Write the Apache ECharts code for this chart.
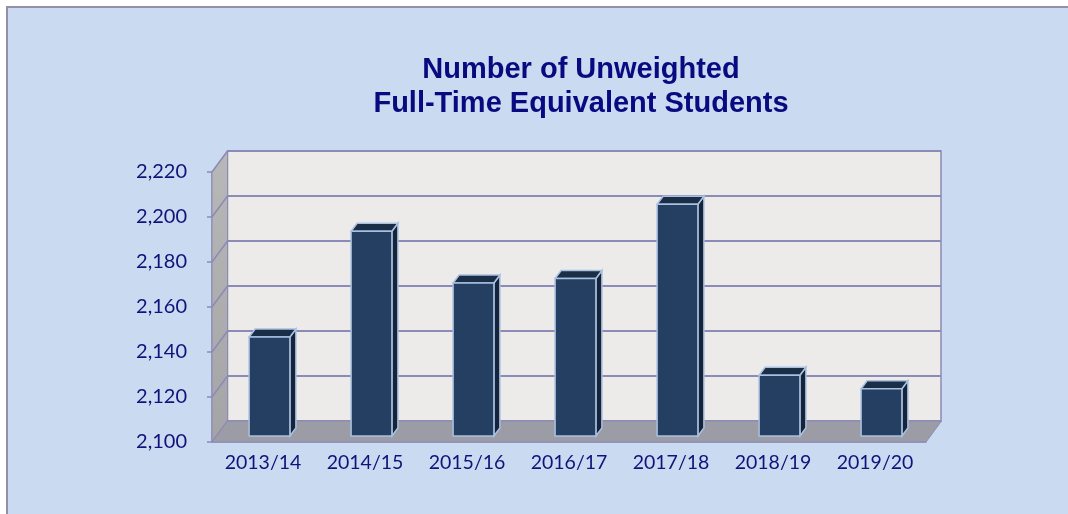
<!DOCTYPE html>
<html>
<head>
<meta charset="utf-8">
<script src="https://cdn.jsdelivr.net/npm/echarts@6/dist/echarts.min.js"></script>
<style>
html, body { margin: 0; padding: 0; background: #ffffff; }
#chart { width: 1068px; height: 514px; }
</style>
</head>
<body>
<div id="chart"></div>
<script>
var years = ['2013/14', '2014/15', '2015/16', '2016/17', '2017/18', '2018/19', '2019/20'];
var students = [2144, 2191, 2168, 2170, 2203, 2127, 2121];
var yMin = 2100, yMax = 2220, yStep = 20;

// depth of the 3D box (pixels) and bar placement inside it
var DX = 15.5, DY = -21;
var labelColor = '#12127a';
var lineColor = '#8c8ab6';

var dom = document.getElementById('chart');
var myChart = echarts.init(dom);

function wallsItem(params, api) {
    var band = api.size([1, 0])[0];
    var p0 = api.coord([0, yMin]);
    var pn = api.coord([years.length - 1, yMin]);
    var L = p0[0] - band / 2, R = pn[0] + band / 2;
    var yb = p0[1], yt = api.coord([0, yMax])[1];
    var kids = [];
    kids.push({
        type: 'polygon',
        shape: { points: [[L, yb], [L + DX, yb + DY], [L + DX, yt + DY], [L, yt]] },
        style: {
            fill: new echarts.graphic.LinearGradient(0, 0, 0, 1, [
                { offset: 0, color: '#b8b8b8' },
                { offset: 1, color: '#a4a4a6' }
            ]),
            stroke: lineColor, lineWidth: 1
        }
    });
    for (var v = yMin; v <= yMax; v += yStep) {
        var y = api.coord([0, v])[1];
        kids.push({
            type: 'line',
            shape: { x1: L, y1: y, x2: L + DX, y2: y + DY },
            style: { stroke: lineColor, lineWidth: 1.5 }
        });
    }
    kids.push({
        type: 'polygon',
        shape: { points: [[L, yb], [R, yb], [R + DX, yb + DY], [L + DX, yb + DY]] },
        style: { fill: '#9c9ca6', stroke: lineColor, lineWidth: 1 }
    });
    return { type: 'group', children: kids };
}

function barItem(params, api) {
    var idx = api.value(0), val = api.value(1);
    var band = api.size([1, 0])[0];
    var top = api.coord([idx, val]);
    var base = api.coord([idx, yMin]);
    var w = band * 0.4;
    var x0 = top[0] - w / 2 + 6.5, x1 = x0 + w;
    var yT = top[1] - 6, yB = base[1] - 6;
    var dx = 6, dy = -8;
    var edge = '#a9c0df';
    return {
        type: 'group',
        children: [
            {
                type: 'polygon',
                shape: { points: [[x1, yB], [x1 + dx, yB + dy], [x1 + dx, yT + dy], [x1, yT]] },
                style: { fill: '#15243a', stroke: edge, lineWidth: 1.5 }
            },
            {
                type: 'polygon',
                shape: { points: [[x0, yT], [x1, yT], [x1 + dx, yT + dy], [x0 + dx, yT + dy]] },
                style: { fill: '#1b2e48', stroke: edge, lineWidth: 1.5 }
            },
            {
                type: 'rect',
                shape: { x: x0, y: yT, width: w, height: yB - yT },
                style: { fill: '#243f62', stroke: edge, lineWidth: 1.5 }
            }
        ]
    };
}

option = {
    animation: false,
    graphic: [
        {
            type: 'rect',
            z: -10,
            shape: { x: 7, y: 7, width: 1100, height: 540 },
            style: { fill: '#c9daf1', stroke: '#9090aa', lineWidth: 2 }
        }
    ],
    title: {
        text: 'Number of Unweighted\nFull-Time Equivalent Students',
        left: 576,
        top: 48,
        textAlign: 'center',
        textStyle: {
            fontFamily: 'Liberation Sans',
            fontSize: 29,
            fontWeight: 'bold',
            color: '#0a0a80',
            lineHeight: 34
        }
    },
    grid: [
        { left: 212, right: 142, top: 172, bottom: 72 },
        {
            left: 227.5, right: 127, top: 151, bottom: 93,
            show: true, backgroundColor: '#ecebea',
            borderColor: lineColor, borderWidth: 1.5
        }
    ],
    xAxis: [
        {
            type: 'category',
            gridIndex: 0,
            data: years,
            axisLine: { lineStyle: { color: lineColor, width: 1.5 } },
            axisTick: { length: 5, lineStyle: { color: lineColor, width: 1.5 } },
            axisLabel: {
                margin: 11,
                fontFamily: 'Lato',
                fontSize: 19.5,
                color: labelColor
            }
        },
        {
            type: 'category',
            gridIndex: 1,
            data: years,
            show: false
        }
    ],
    yAxis: [
        {
            type: 'value',
            gridIndex: 0,
            min: yMin,
            max: yMax,
            interval: yStep,
            splitLine: { show: false },
            axisLine: { show: true, lineStyle: { color: lineColor, width: 1.5 } },
            axisTick: { show: true, length: 5, lineStyle: { color: lineColor, width: 1.5 } },
            axisLabel: {
                margin: 25,
                fontFamily: 'Lato',
                fontSize: 20,
                color: labelColor,
                formatter: function (v) { return v.toLocaleString('en-US'); }
            }
        },
        {
            type: 'value',
            gridIndex: 1,
            min: yMin,
            max: yMax,
            interval: yStep,
            axisLine: { show: false },
            axisTick: { show: false },
            axisLabel: { show: false },
            splitLine: { lineStyle: { color: lineColor, width: 2 } }
        }
    ],
    series: [
        {
            name: 'walls',
            type: 'custom',
            xAxisIndex: 0,
            yAxisIndex: 0,
            z: 1,
            silent: true,
            renderItem: wallsItem,
            data: [[0, yMin]]
        },
        {
            name: 'Students',
            type: 'custom',
            xAxisIndex: 0,
            yAxisIndex: 0,
            z: 5,
            renderItem: barItem,
            encode: { x: 0, y: 1 },
            data: students.map(function (v, i) { return [i, v]; })
        }
    ]
};

if (option && typeof option === "object") {
    myChart.setOption(option, true);
}
</script>
</body>
</html>
